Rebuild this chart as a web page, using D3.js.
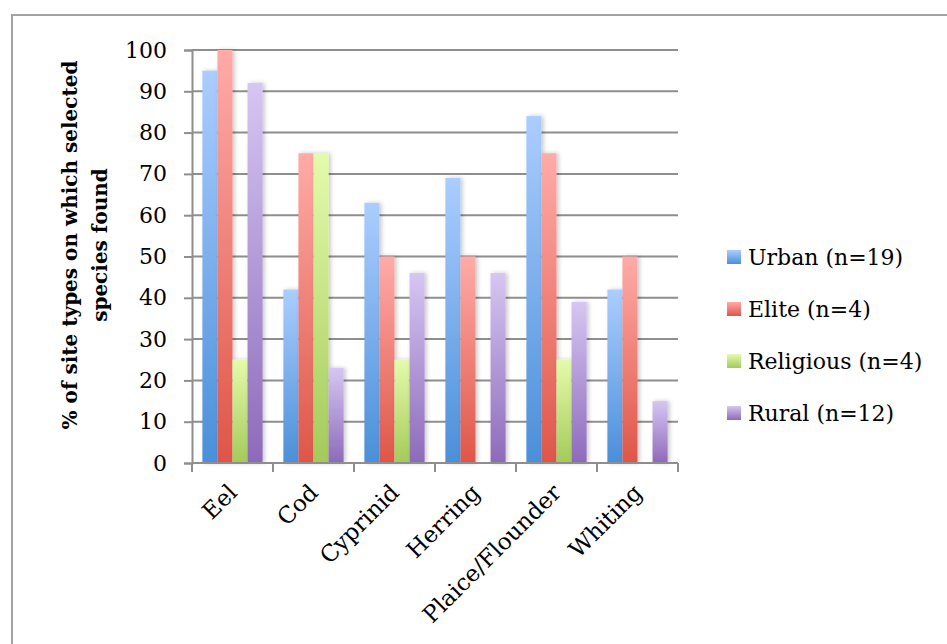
<!DOCTYPE html>
<html>
<head>
<meta charset="utf-8">
<script src="https://cdn.jsdelivr.net/npm/d3@7"></script>
<style>
  html, body { margin: 0; padding: 0; background: #fff; }
  svg { display: block; }
  text { font-family: "DejaVu Serif", serif; fill: #000; }
</style>
</head>
<body>
<svg id="chart" width="947" height="644"></svg>
<script>
// Fish species presence by site type
const species = ["Eel", "Cod", "Cyprinid", "Herring", "Plaice/Flounder", "Whiting"];
const seriesNames = ["Urban (n=19)", "Elite (n=4)", "Religious (n=4)", "Rural (n=12)"];
const urban = [95, 42, 63, 69, 84, 42];
const elite = [100, 75, 50, 50, 75, 50];
const religious = [25, 75, 25, 0, 25, 0];
const rural = [92, 23, 46, 46, 39, 15];
const yTicks = [0, 10, 20, 30, 40, 50, 60, 70, 80, 90, 100];
const yTitleLines = ["% of site types on which selected", "species found"];

const seriesValues = [urban, elite, religious, rural];
const gradStops = [
  ["#abcdff", "#4a8fd9"],
  ["#ffaba8", "#de5648"],
  ["#e4fbab", "#a4ca5a"],
  ["#d6c6f3", "#8d6aba"]
];

const svg = d3.select("#chart");

// outer frame
svg.append("rect")
  .attr("x", 12).attr("y", 15)
  .attr("width", 960).attr("height", 700)
  .attr("fill", "none").attr("stroke", "#a3a3a3").attr("stroke-width", 2);

const plot = { left: 192, right: 678, top: 50, bottom: 463 };

const x0 = d3.scaleBand().domain(species).range([plot.left, plot.right]).paddingInner(0).paddingOuter(0);
const x1 = d3.scaleBand().domain(d3.range(seriesNames.length)).range([0, x0.bandwidth()]).paddingOuter(0.69).paddingInner(0);
const y = d3.scaleLinear().domain([0, 100]).range([plot.bottom, plot.top]);

const defs = svg.append("defs");
gradStops.forEach((g, i) => {
  const lg = defs.append("linearGradient").attr("id", "grad" + i)
    .attr("x1", 0).attr("y1", 0).attr("x2", 0).attr("y2", 1);
  lg.append("stop").attr("offset", "0%").attr("stop-color", g[0]);
  lg.append("stop").attr("offset", "100%").attr("stop-color", g[1]);
});
const shadow = defs.append("filter").attr("id", "shadow")
  .attr("x", "-30%").attr("y", "-5%").attr("width", "180%").attr("height", "110%");
shadow.append("feDropShadow").attr("dx", 2).attr("dy", 0).attr("stdDeviation", 2)
  .attr("flood-color", "#000").attr("flood-opacity", 0.22);

// gridlines
svg.append("g").selectAll("line").data(yTicks).join("line")
  .attr("x1", plot.left).attr("x2", plot.right)
  .attr("y1", d => y(d)).attr("y2", d => y(d))
  .attr("stroke", "#8e8e8e").attr("stroke-width", 2);

// y axis
const yAxis = svg.append("g").attr("transform", `translate(${plot.left},0)`)
  .call(d3.axisLeft(y).tickValues(yTicks).tickSize(8).tickPadding(17).tickFormat(d3.format("d")));
yAxis.select(".domain").attr("stroke", "#8e8e8e").attr("stroke-width", 2);
yAxis.selectAll(".tick line").attr("stroke", "#8e8e8e").attr("stroke-width", 2);
yAxis.selectAll(".tick text").attr("font-family", "DejaVu Serif").attr("font-size", 22).attr("fill", "#000");

// bars
const groups = svg.append("g").selectAll("g").data(species).join("g")
  .attr("transform", d => `translate(${x0(d)},0)`);
groups.selectAll("rect")
  .data((d, ci) => seriesValues.map((vals, si) => ({ si, v: vals[ci] })))
  .join("rect")
  .filter(d => d.v > 0)
  .attr("x", d => x1(d.si))
  .attr("y", d => y(d.v))
  .attr("width", x1.bandwidth())
  .attr("height", d => y(0) - y(d.v))
  .attr("fill", d => `url(#grad${d.si})`)
  .attr("filter", "url(#shadow)");

// x axis
const xAxis = svg.append("g").attr("transform", `translate(0,${plot.bottom})`);
xAxis.append("line").attr("x1", plot.left).attr("x2", plot.right)
  .attr("stroke", "#8e8e8e").attr("stroke-width", 2);
const boundaries = species.map(s => x0(s)).concat([plot.right]);
xAxis.selectAll("line.tick").data(boundaries).join("line").attr("class", "tick")
  .attr("x1", d => d).attr("x2", d => d).attr("y1", 0).attr("y2", 9)
  .attr("stroke", "#8e8e8e").attr("stroke-width", 2);
xAxis.selectAll("text").data(species).join("text")
  .attr("transform", d => `translate(${x0(d) + x0.bandwidth() / 2 + 6},${31}) rotate(-45)`)
  .attr("text-anchor", "end")
  .attr("font-size", 23)
  .text(d => d);

// y axis title
const yt = svg.append("text")
  .attr("transform", "translate(77,245) rotate(-90)")
  .attr("text-anchor", "middle")
  .attr("font-weight", "bold")
  .attr("font-size", 20);
yTitleLines.forEach((t, i) => {
  yt.append("tspan").attr("x", 0).attr("dy", i === 0 ? 0 : 30).text(t);
});

// legend
const legend = svg.append("g").attr("transform", "translate(727,250)");
const items = legend.selectAll("g").data(seriesNames).join("g")
  .attr("transform", (d, i) => `translate(0,${i * 52})`);
items.append("rect").attr("width", 14).attr("height", 14)
  .attr("fill", (d, i) => `url(#grad${i})`);
items.append("text").attr("x", 21).attr("y", 7).attr("dy", "0.36em")
  .attr("font-size", 22).text(d => d);
</script>
</body>
</html>
